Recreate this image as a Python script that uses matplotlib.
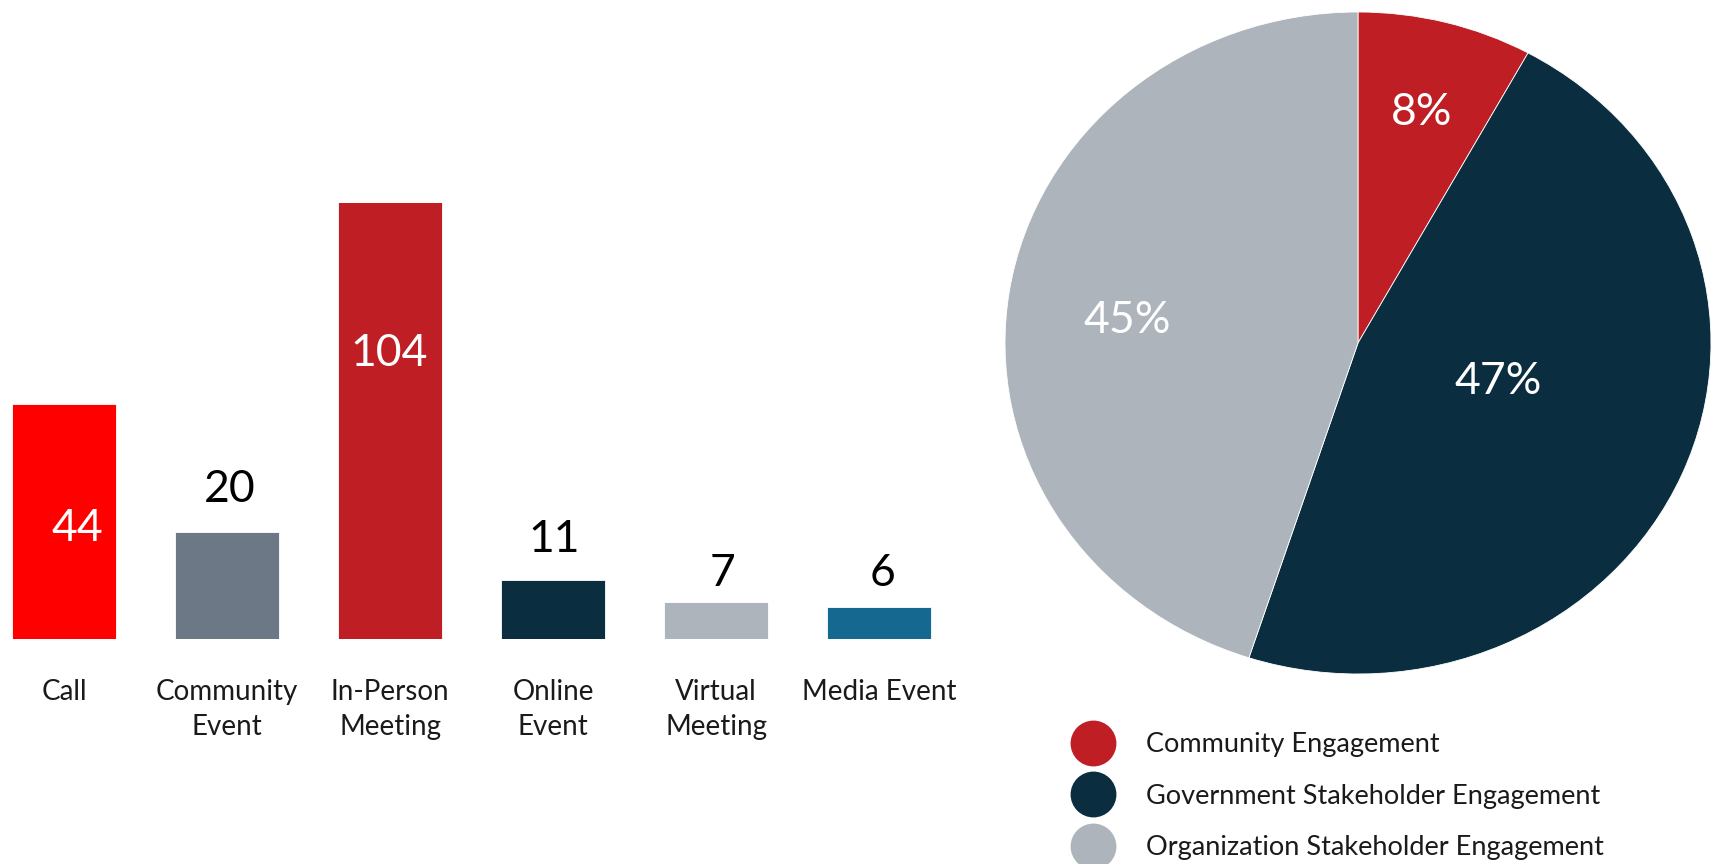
import matplotlib
matplotlib.use("Agg")
import matplotlib.pyplot as plt
from matplotlib.lines import Line2D
import numpy as np

plt.rcParams['font.family'] = ['Lato', 'DejaVu Sans']

# ---------------- data ----------------
categories = ["Call", "Community\nEvent", "In-Person\nMeeting", "Online\nEvent",
              "Virtual\nMeeting", "Media Event"]
counts = [44, 20, 104, 11, 7, 6]
bar_colors = ["#FF0000", "#6D7886", "#BE1E24", "#0A2E40", "#ADB4BC", "#156990"]

pie_labels = ["Community Engagement", "Government Stakeholder Engagement",
              "Organization Stakeholder Engagement"]
pie_values = [8, 47, 45]
pie_colors = ["#BE1E24", "#0A2E40", "#ADB4BC"]

# ---------------- layout ----------------
W, H = 1718, 864
DPI = 100
fig = plt.figure(figsize=(W / DPI, H / DPI), dpi=DPI)

def px_axes(x0, y0_top, x1, y1_bottom):
    return fig.add_axes([x0 / W, (H - y1_bottom) / H, (x1 - x0) / W, (y1_bottom - y0_top) / H])

# bar chart
axb = px_axes(5, 203, 977, 639)
pitch = 163.0
first_center = 64.0
axb.set_xlim((5 - first_center) / pitch, (977 - first_center) / pitch)
y_top = 81.5
axb.set_ylim(0, y_top)
xs = list(range(len(counts)))
axb.bar(xs, counts, width=0.64, color=bar_colors, edgecolor="white", linewidth=0.6)
for s in axb.spines.values():
    s.set_visible(False)
axb.set_yticks([])
axb.set_xticks(xs)
axb.set_xticklabels(categories, fontsize=20, color="#1a1a1a", linespacing=1.42)
axb.tick_params(axis="x", length=0, pad=29)

# value label offsets (pixels relative to visible bar top) and colours
lab_dx = [13, 3, -1, 1, 7, 4]
lab_dy = [-125, 43, -150, 41, 28, 33]
lab_col = ["white", "black", "white", "black", "black", "black"]
for i, v in enumerate(counts):
    axb.annotate(str(v), xy=(i, min(v, y_top)), xytext=(lab_dx[i], lab_dy[i]),
                 textcoords="offset pixels", ha="center", va="center",
                 fontsize=32, color=lab_col[i], annotation_clip=False)

# pie chart (elliptical, as in reference)
axp = px_axes(1005, 12, 1711, 674)
wedges, _ = axp.pie(pie_values, colors=pie_colors, startangle=90, counterclock=False,
                    wedgeprops=dict(edgecolor="white", linewidth=0.6))
axp.set_aspect("auto")
axp.set_xlim(-1, 1)
axp.set_ylim(-1, 1)
pie_lab_r = [0.72, 0.413, 0.656]
pie_lab_dtheta = [0.0, 7.2, 3.0]
total = sum(pie_values)
for w, v, r, dt in zip(wedges, pie_values, pie_lab_r, pie_lab_dtheta):
    th = np.deg2rad((w.theta1 + w.theta2) / 2 + dt)
    axp.text(r * np.cos(th), r * np.sin(th), f"{round(100 * v / total)}%",
             ha="center", va="center", fontsize=32, color="white")

# legend
handles = [Line2D([], [], linestyle="none", marker="o", markersize=33,
                  markerfacecolor=c, markeredgecolor="none") for c in pie_colors]
fig.legend(handles, pie_labels, loc="upper left",
           bbox_to_anchor=(1069 / W, (H - 732) / H), frameon=False,
           fontsize=19.5, handlelength=1.76, handletextpad=1.1, labelspacing=0.98,
           borderpad=0, borderaxespad=0, labelcolor="#1a1a1a")

fig.savefig("out.png", dpi=DPI)
